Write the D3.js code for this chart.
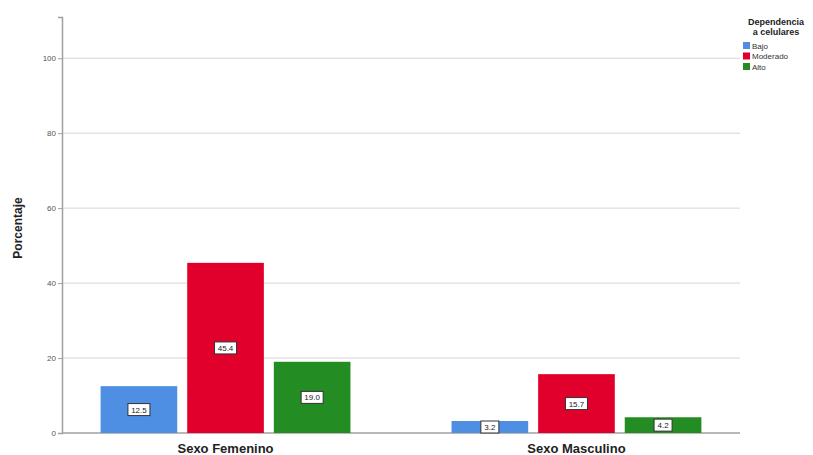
<!DOCTYPE html>
<html>
<head>
<meta charset="utf-8">
<script src="https://cdn.jsdelivr.net/npm/d3@7"></script>
<style>
  html, body { margin: 0; padding: 0; background: #fff; }
  svg { display: block; font-family: Arial, "Liberation Sans", sans-serif; }
</style>
</head>
<body>
<svg id="chart" width="813" height="455"></svg>
<script>
// Categories, groups and percentages
const categories = ["Sexo Femenino", "Sexo Masculino"];
const levels = ["Bajo", "Moderado", "Alto"];
const bajo = [12.5, 3.2];
const moderado = [45.4, 15.7];
const alto = [19.0, 4.2];
const yTicks = [0, 20, 40, 60, 80, 100];
const colors = ["#4f8fe3", "#e0002b", "#238c23"];

const series = [bajo, moderado, alto];
const rows = [];
categories.forEach((c, i) => {
  levels.forEach((l, j) => rows.push({ cat: c, level: l, value: series[j][i] }));
});

const svg = d3.select("#chart");
const margin = { left: 62, right: 740, top: 17, bottom: 433 };

const x0 = d3.scaleBand().domain(categories).range([margin.left, margin.right])
  .paddingInner(0.288).paddingOuter(0.11);
const x1 = d3.scaleBand().domain(levels).range([0, x0.bandwidth()]).paddingInner(0.115);
const y = d3.scaleLinear().domain([0, 111]).range([margin.bottom, margin.top]);

// Gridlines
svg.append("g").selectAll("line").data(yTicks.filter(t => t > 0)).join("line")
  .attr("x1", margin.left).attr("x2", margin.right)
  .attr("y1", d => y(d)).attr("y2", d => y(d))
  .attr("stroke", "#d6d6d6").attr("stroke-width", 1);

// Y axis
const yAxis = svg.append("g").attr("transform", `translate(${margin.left},0)`)
  .call(d3.axisLeft(y).tickValues(yTicks).tickSize(4).tickPadding(2));
yAxis.select(".domain").attr("stroke", "#a0a0a0").attr("stroke-width", 1.5);
yAxis.selectAll(".tick line").attr("stroke", "#a0a0a0");
yAxis.selectAll("text").attr("fill", "#555").style("font-size", "8px");

// X axis
svg.append("line").attr("x1", margin.left).attr("x2", margin.right)
  .attr("y1", margin.bottom).attr("y2", margin.bottom)
  .attr("stroke", "#a0a0a0").attr("stroke-width", 1.5);

// Bars
const bars = svg.append("g").selectAll("g.bar").data(rows).join("g").attr("class", "bar");
bars.append("rect")
  .attr("x", d => x0(d.cat) + x1(d.level))
  .attr("width", x1.bandwidth())
  .attr("y", d => y(d.value))
  .attr("height", d => y(0) - y(d.value))
  .attr("fill", d => colors[levels.indexOf(d.level)]);

// Value labels in boxes
bars.each(function (d) {
  const g = d3.select(this);
  const cx = x0(d.cat) + x1(d.level) + x1.bandwidth() / 2;
  const cy = (y(d.value) + y(0)) / 2;
  const w = d.value >= 10 ? 22 : 18, h = 12;
  g.append("rect").attr("x", cx - w / 2).attr("y", cy - h / 2)
    .attr("width", w).attr("height", h)
    .attr("fill", "#fff").attr("stroke", "#333").attr("stroke-width", 1);
  g.append("text").attr("x", cx).attr("y", cy + 3)
    .attr("text-anchor", "middle").style("font-size", "8px").attr("fill", "#222")
    .text(d.value.toFixed(1));
});

// Category labels
svg.append("g").selectAll("text").data(categories).join("text")
  .attr("x", d => x0(d) + x0.bandwidth() / 2).attr("y", 453)
  .attr("text-anchor", "middle").style("font-size", "13px").style("font-weight", "bold")
  .attr("fill", "#222").text(d => d);

// Y axis title
svg.append("text").attr("transform", "translate(22,228) rotate(-90)")
  .attr("text-anchor", "middle").style("font-size", "12px").style("font-weight", "bold")
  .attr("fill", "#222").text("Porcentaje");

// Legend
const lg = svg.append("g");
lg.append("text").attr("x", 776).attr("y", 25).attr("text-anchor", "middle")
  .style("font-size", "9px").style("font-weight", "bold").attr("fill", "#222").text("Dependencia");
lg.append("text").attr("x", 776).attr("y", 35).attr("text-anchor", "middle")
  .style("font-size", "9px").style("font-weight", "bold").attr("fill", "#222").text("a celulares");
levels.forEach((l, i) => {
  lg.append("rect").attr("x", 743).attr("y", 42 + i * 10.5).attr("width", 7).attr("height", 7)
    .attr("fill", colors[i]);
  lg.append("text").attr("x", 752).attr("y", 48.5 + i * 10.5)
    .style("font-size", "8px").attr("fill", "#333").text(l);
});
</script>
</body>
</html>
